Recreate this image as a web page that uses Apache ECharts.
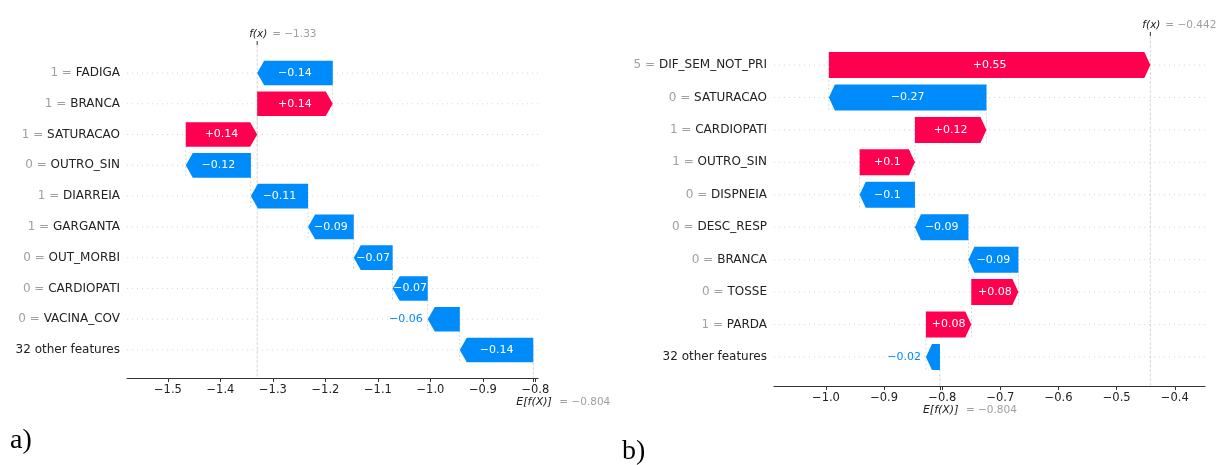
<!DOCTYPE html>
<html>
<head>
<meta charset="utf-8">
<script src="https://cdn.jsdelivr.net/npm/echarts@6/dist/echarts.min.js"></script>
<style>
html,body{margin:0;padding:0;background:#fff;}
#chart{width:1221px;height:465px;}
</style>
</head>
<body>
<div id="chart"></div>
<script>
// ---------- data ----------
const featuresA = ['FADIGA','BRANCA','SATURACAO','OUTRO_SIN','DIARREIA','GARGANTA','OUT_MORBI','CARDIOPATI','VACINA_COV','32 other features'];
const featureValuesA = ['1','1','1','0','1','1','0','0','0',''];
const shapA = [-0.144, 0.144, 0.136, -0.124, -0.109, -0.087, -0.074, -0.067, -0.061, -0.140];
const baseA = -0.804;
const ticksA = [-1.5, -1.4, -1.3, -1.2, -1.1, -1.0, -0.9, -0.8];

const featuresB = ['DIF_SEM_NOT_PRI','SATURACAO','CARDIOPATI','OUTRO_SIN','DISPNEIA','DESC_RESP','BRANCA','TOSSE','PARDA','32 other features'];
const featureValuesB = ['5','0','1','1','0','0','0','0','1',''];
const shapB = [0.553, -0.271, 0.123, 0.095, -0.095, -0.092, -0.086, 0.081, 0.078, -0.024];
const baseB = -0.804;
const ticksB = [-1.0, -0.9, -0.8, -0.7, -0.6, -0.5, -0.4];

// ---------- style ----------
const RED = '#ff0051', BLUE = '#008bfb';
const FONT = '"DejaVu Sans", sans-serif';
const MINUS = '\u2212';

const measureCtx = document.createElement('canvas').getContext('2d');
function textWidth(t, size) { measureCtx.font = size + 'px ' + FONT; return measureCtx.measureText(t).width; }

function stripZeros(s) { if (s.indexOf('.') >= 0) { s = s.replace(/0+$/, ''); s = s.replace(/\.$/, ''); } return s; }
function fmtShap(v) { const s = stripZeros(Math.abs(v).toFixed(2)); return (v >= 0 ? '+' : MINUS) + s; }
function fmt3(v) { const s = stripZeros(Math.abs(v).toFixed(3)); return (v < 0 ? MINUS : '') + s; }
function fmtTick(v) { const s = Math.abs(v).toFixed(1); return (v < -1e-9 ? MINUS : '') + s; }

function buildChain(shap, base) {
  const n = shap.length, out = new Array(n);
  let cur = base;
  for (let i = n - 1; i >= 0; i--) { const s = cur; cur += shap[i]; out[i] = [i, s, cur, shap[i]]; }
  return { data: out, fx: cur };
}

const chainA = buildChain(shapA, baseA);
const chainB = buildChain(shapB, baseB);

function makeBarRender(n, headLen) {
  return function (params, api) {
    const i = api.value(0), s = api.value(1), e = api.value(2), v = api.value(3);
    const ps = api.coord([s, i]), pe = api.coord([e, i]);
    const band = api.size([0, 1])[1];
    const h = band * 0.8, y = ps[1];
    const cs = params.coordSys;
    const w = Math.abs(pe[0] - ps[0]);
    const hl = Math.min(headLen, w);
    const dir = e >= s ? 1 : -1;
    const color = dir > 0 ? RED : BLUE;
    const tb = pe[0] - dir * hl;
    const pts = [[ps[0], y - h / 2], [tb, y - h / 2], [pe[0], y], [tb, y + h / 2], [ps[0], y + h / 2]];
    const children = [];
    children.push({ type: 'line', z2: 0, shape: { x1: cs.x, y1: y, x2: cs.x + cs.width, y2: y },
      style: { stroke: '#cccccc', lineWidth: 0.8, lineDash: [1, 4] } });
    if (i < n - 1) {
      children.push({ type: 'line', z2: 1, shape: { x1: ps[0], y1: y - h / 2, x2: ps[0], y2: y + band + h / 2 },
        style: { stroke: '#c8c8c8', lineWidth: 0.7, lineDash: [2, 2] } });
    }
    children.push({ type: 'polygon', z2: 10, shape: { points: pts }, style: { fill: color } });
    const txt = fmtShap(v);
    const tw = textWidth(txt, 11);
    if (tw < w) {
      children.push({ type: 'text', z2: 20, style: { text: txt, x: (ps[0] + pe[0]) / 2, y: y, align: 'center', verticalAlign: 'middle',
        fill: '#ffffff', font: '11px ' + FONT } });
    } else {
      children.push({ type: 'text', z2: 20, style: { text: txt, x: pe[0] + dir * 5, y: y, align: dir < 0 ? 'right' : 'left', verticalAlign: 'middle',
        fill: color, font: '11px ' + FONT } });
    }
    return { type: 'group', children: children };
  };
}

function makeAnnotRender(n, off) {
  return function (params, api) {
    const cs = params.coordSys;
    const fx = api.value(0), b = api.value(1);
    const px = api.coord([fx, 0])[0], pb = api.coord([b, 0])[0];
    const top = cs.y - off, bot = cs.y + cs.height + off;
    const children = [
      { type: 'line', z2: 0, shape: { x1: px, y1: top, x2: px, y2: bot }, style: { stroke: '#c4c4c4', lineWidth: 0.7, lineDash: [3, 1.5] } },
      { type: 'line', z2: 0, shape: { x1: pb, y1: bot - (bot - top) / n, x2: pb, y2: bot }, style: { stroke: '#c4c4c4', lineWidth: 0.7, lineDash: [3, 1.5] } },
      { type: 'line', z2: 5, shape: { x1: px, y1: top - 4, x2: px, y2: top }, style: { stroke: '#333', lineWidth: 1 } },
      { type: 'text', z2: 5, style: { text: 'f(x)', x: px - 8, y: top - 11, align: 'left', verticalAlign: 'middle', fill: '#222', font: 'italic 10.5px ' + FONT } },
      { type: 'text', z2: 5, style: { text: '= ' + fmt3(fx), x: px + 15, y: top - 11, align: 'left', verticalAlign: 'middle', fill: '#a0a0a0', font: '10.5px ' + FONT } },
      { type: 'text', z2: 5, style: { text: 'E[f(X)]', x: pb - 17, y: bot + 24.5, align: 'left', verticalAlign: 'middle', fill: '#222', font: 'italic 11px ' + FONT } },
      { type: 'text', z2: 5, style: { text: '= ' + fmt3(b), x: pb + 26, y: bot + 24.5, align: 'left', verticalAlign: 'middle', fill: '#a0a0a0', font: '10.5px ' + FONT } }
    ];
    return { type: 'group', children: children };
  };
}

function yAxisFor(gridIndex, feats, vals) {
  return {
    type: 'category', gridIndex: gridIndex, data: feats, inverse: true,
    axisLine: { show: false }, axisTick: { show: false }, splitLine: { show: false },
    axisLabel: {
      margin: 7,
      formatter: function (name, idx) {
        return vals[idx] ? '{g|' + vals[idx] + ' = }{n|' + name + '}' : '{n|' + name + '}';
      },
      rich: {
        g: { color: '#a0a0a0', fontSize: 12, fontFamily: FONT },
        n: { color: '#222', fontSize: 12, fontFamily: FONT }
      }
    }
  };
}

function xAxisFor(gridIndex, min, max, ticks, base, off) {
  return {
    type: 'value', gridIndex: gridIndex, min: min, max: max, position: 'bottom', offset: off,
    axisLine: { show: true, lineStyle: { color: '#333', width: 1 } },
    axisTick: { show: true, length: 4, customValues: ticks.concat([base]), lineStyle: { color: '#333' } },
    axisLabel: { customValues: ticks, formatter: fmtTick, fontSize: 11.5, color: '#222', fontFamily: FONT, margin: 6 },
    splitLine: { show: false }
  };
}

const offA = 12.6, offB = 12.8;

const option = {
  animation: false,
  backgroundColor: '#ffffff',
  grid: [
    { left: 127, right: 683, top: 57.6, bottom: 99.6 },
    { left: 774, right: 16, top: 48.8, bottom: 91.8 }
  ],
  xAxis: [
    xAxisFor(0, -1.578, -0.795, ticksA, baseA, offA),
    xAxisFor(1, -1.0894, -0.348, ticksB, baseB, offB)
  ],
  yAxis: [
    yAxisFor(0, featuresA, featureValuesA),
    yAxisFor(1, featuresB, featureValuesB)
  ],
  series: [
    { type: 'custom', xAxisIndex: 0, yAxisIndex: 0, clip: false, renderItem: makeBarRender(featuresA.length, 7), data: chainA.data },
    { type: 'custom', xAxisIndex: 0, yAxisIndex: 0, clip: false, renderItem: makeAnnotRender(featuresA.length, offA), data: [[chainA.fx, baseA]] },
    { type: 'custom', xAxisIndex: 1, yAxisIndex: 1, clip: false, renderItem: makeBarRender(featuresB.length, 6), data: chainB.data },
    { type: 'custom', xAxisIndex: 1, yAxisIndex: 1, clip: false, renderItem: makeAnnotRender(featuresB.length, offB), data: [[chainB.fx, baseB]] }
  ],
  graphic: [
    { type: 'text', left: 10, top: 427, style: { text: 'a)', font: '28px "Liberation Serif", serif', fill: '#000' } },
    { type: 'text', left: 622, top: 438, style: { text: 'b)', font: '28px "Liberation Serif", serif', fill: '#000' } }
  ]
};

const chart = echarts.init(document.getElementById('chart'), null, { renderer: 'canvas' });
chart.setOption(option);
</script>
</body>
</html>
